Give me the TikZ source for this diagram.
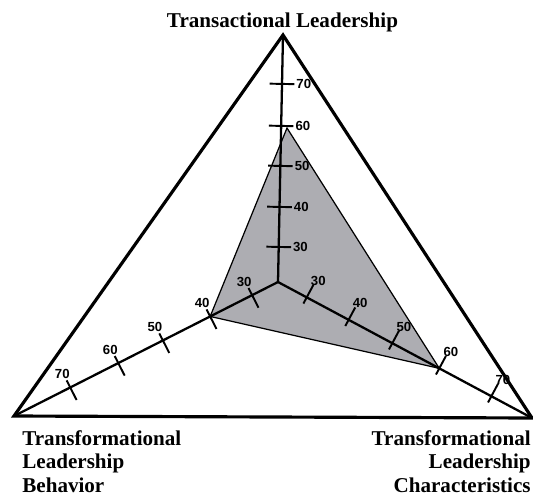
\documentclass[tikz,border=0pt]{standalone}
\usepackage{fontspec}
\setmainfont{Liberation Serif}
\setsansfont{Liberation Sans}
\usetikzlibrary{calc}
\begin{document}
\begin{tikzpicture}
%
\definecolor{col_line}{rgb}{0.0,0.0,0.0}
\definecolor{col_shade}{rgb}{0.68,0.68,0.70}
\definecolor{col_lab}{rgb}{0.0,0.0,0.0}
%
%
\tikzset{
  frame/.style={draw=col_line,line width=1.8pt},
  axis/.style={draw=col_line,line width=1.3pt},
  tickline/.style={draw=col_line,line width=1.1pt},
  profile/.style={fill=col_shade,draw=col_line,line width=0.7pt},
  ticklab/.style={font=\sffamily\bfseries\fontsize{7.5}{8}\selectfont,text=col_lab,inner sep=0pt},
  cornerlab/.style={font=\rmfamily\bfseries\fontsize{12}{13.4}\selectfont,text=col_lab,inner sep=0pt}
}
%
\useasboundingbox (0,0) rectangle (10.66,9.92);
%
%
\coordinate (v0) at (5.66,9.22);
\coordinate (v1) at (0.28,1.60);
\coordinate (v2) at (10.64,1.56);
\coordinate (o) at (5.56,4.28);
\coordinate (p0) at (5.74,7.36);
%
%
\coordinate (tr30) at ($(o)!0.142!(v0)$);
\coordinate (tr40) at ($(o)!0.304!(v0)$);
\coordinate (tr50) at ($(o)!0.470!(v0)$);
\coordinate (tr60) at ($(o)!0.632!(v0)$);
\coordinate (tr70) at ($(o)!0.802!(v0)$);
\coordinate (be30) at ($(o)!0.098!(v1)$);
\coordinate (be40) at ($(o)!0.257!(v1)$);
\coordinate (be50) at ($(o)!0.436!(v1)$);
\coordinate (be60) at ($(o)!0.605!(v1)$);
\coordinate (be70) at ($(o)!0.787!(v1)$);
\coordinate (ch30) at ($(o)!0.113!(v2)$);
\coordinate (ch40) at ($(o)!0.278!(v2)$);
\coordinate (ch50) at ($(o)!0.450!(v2)$);
\coordinate (ch60) at ($(o)!0.635!(v2)$);
\coordinate (ch70) at ($(o)!0.840!(v2)$);
%
%
\draw[profile] (p0) -- (be40) -- (ch60) -- cycle;
%
%
\draw[axis] (o) -- (v0);
\draw[axis] (o) -- (v1);
\draw[axis] (o) -- (v2);
%
\draw[frame] (v0) -- (v1) -- (v2) -- cycle;
%
%
\draw[tickline] ($(tr30)!7pt!90:(o)$) -- ($(tr30)!7pt!-90:(o)$);
\draw[tickline] ($(tr40)!7pt!90:(o)$) -- ($(tr40)!7pt!-90:(o)$);
\draw[tickline] ($(tr50)!7pt!90:(o)$) -- ($(tr50)!7pt!-90:(o)$);
\draw[tickline] ($(tr60)!7pt!90:(o)$) -- ($(tr60)!7pt!-90:(o)$);
\draw[tickline] ($(tr70)!7pt!90:(o)$) -- ($(tr70)!7pt!-90:(o)$);
%
\draw[tickline] ($(be30)!4.5pt!90:(o)$) -- ($(be30)!8pt!-90:(o)$);
\draw[tickline] ($(be40)!4.5pt!90:(o)$) -- ($(be40)!8pt!-90:(o)$);
\draw[tickline] ($(be50)!4.5pt!90:(o)$) -- ($(be50)!8pt!-90:(o)$);
\draw[tickline] ($(be60)!4.5pt!90:(o)$) -- ($(be60)!8pt!-90:(o)$);
\draw[tickline] ($(be70)!4.5pt!90:(o)$) -- ($(be70)!8pt!-90:(o)$);
%
\draw[tickline] ($(ch30)!8pt!-90:(o)$) -- ($(ch30)!4pt!90:(o)$);
\draw[tickline] ($(ch40)!8pt!-90:(o)$) -- ($(ch40)!4pt!90:(o)$);
\draw[tickline] ($(ch50)!8pt!-90:(o)$) -- ($(ch50)!4pt!90:(o)$);
\draw[tickline] ($(ch60)!8pt!-90:(o)$) -- ($(ch60)!4pt!90:(o)$);
\draw[tickline] ($(ch70)!8pt!-90:(o)$) -- ($(ch70)!4pt!90:(o)$);
%
%
\node[ticklab,anchor=west] (ltr30) at ($(tr30)!8pt!90:(o)$) {30};
\node[ticklab,anchor=west] (ltr40) at ($(tr40)!8pt!90:(o)$) {40};
\node[ticklab,anchor=west] (ltr50) at ($(tr50)!8pt!90:(o)$) {50};
\node[ticklab,anchor=west] (ltr60) at ($(tr60)!8pt!90:(o)$) {60};
\node[ticklab,anchor=west] (ltr70) at ($(tr70)!8pt!90:(o)$) {70};
%
\node[ticklab] (lbe30) at ($(be30)!4.5pt!90:(o)+(-2.5pt,3.4pt)$) {30};
\node[ticklab] (lbe40) at ($(be40)!4.5pt!90:(o)+(-2.5pt,3.4pt)$) {40};
\node[ticklab] (lbe50) at ($(be50)!4.5pt!90:(o)+(-2.5pt,3.4pt)$) {50};
\node[ticklab] (lbe60) at ($(be60)!4.5pt!90:(o)+(-2.5pt,3.4pt)$) {60};
\node[ticklab] (lbe70) at ($(be70)!4.5pt!90:(o)+(-2.5pt,3.4pt)$) {70};
%
\node[ticklab] (lch30) at ($(ch30)!8pt!-90:(o)+(2.8pt,2.3pt)$) {30};
\node[ticklab] (lch40) at ($(ch40)!8pt!-90:(o)+(2.8pt,2.3pt)$) {40};
\node[ticklab] (lch50) at ($(ch50)!8pt!-90:(o)+(2.8pt,2.3pt)$) {50};
\node[ticklab] (lch60) at ($(ch60)!8pt!-90:(o)+(2.8pt,2.3pt)$) {60};
\node[ticklab] (lch70) at ($(ch70)!8pt!-90:(o)+(2.8pt,2.3pt)$) {70};
%
%
\node[cornerlab,anchor=base] (n0) at (5.65,9.38) {Transactional Leadership};
\node[cornerlab,align=left,anchor=north west] (n1) at (0.44,1.32) {Transformational\\Leadership\\Behavior};
\node[cornerlab,align=right,anchor=north east] (n2) at (10.62,1.32) {Transformational\\Leadership\\Characteristics};
%
%
\end{tikzpicture}
\end{document}
